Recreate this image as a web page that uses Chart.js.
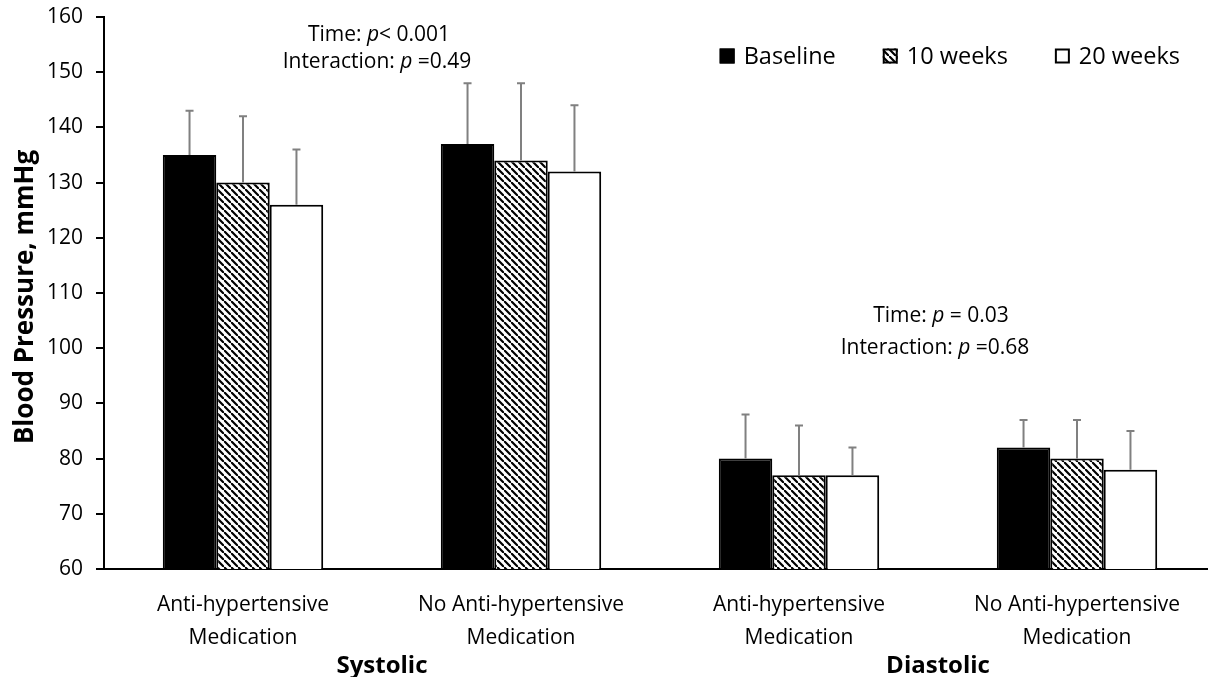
<!DOCTYPE html>
<html>
<head>
<meta charset="utf-8">
<script src="https://cdn.jsdelivr.net/npm/chart.js@4"></script>
<style>
  html, body { margin: 0; padding: 0; background: #fff; overflow: hidden; }
  #wrap { width: 1216px; height: 677px; }
</style>
</head>
<body>
<div id="wrap"><canvas id="bpChart"></canvas></div>
<script>
// data
const categories = [
    ['Anti-hypertensive', 'Medication'],
    ['No Anti-hypertensive', 'Medication'],
    ['Anti-hypertensive', 'Medication'],
    ['No Anti-hypertensive', 'Medication']
];
const groupLabels = ['Systolic', 'Diastolic'];
const seriesNames = ['Baseline', '10 weeks', '20 weeks'];
const baseline = [135, 137, 80, 82];
const weeks10 = [130, 134, 77, 80];
const weeks20 = [126, 132, 77, 78];
// upper error bar lengths (SD)
const baselineSD = [8, 11, 8, 5];
const weeks10SD = [12, 14, 9, 7];
const weeks20SD = [10, 12, 5, 7];
const yMin = 60, yMax = 160, yStep = 10;
const pText = [
    [['Time: ', ''], ['p', 'i'], ['< 0.001', '']],
    [['Interaction: ', ''], ['p', 'i'], [' =0.49', '']]
];
const dText = [
    [['Time: ', ''], ['p', 'i'], [' = 0.03', '']],
    [['Interaction: ', ''], ['p', 'i'], [' =0.68', '']]
];

const FONT = "'Open Sans', sans-serif";
const canvas = document.getElementById('bpChart');
const ctx = canvas.getContext('2d');

function makeHatch() {
    const c = document.createElement('canvas');
    c.width = 7; c.height = 7;
    const g = c.getContext('2d');
    g.fillStyle = '#fff';
    g.fillRect(0, 0, 7, 7);
    g.strokeStyle = '#000';
    g.lineWidth = 2.2;
    g.beginPath();
    g.moveTo(-1, -1); g.lineTo(8, 8);
    g.moveTo(-4.5, 3.5); g.lineTo(3.5, 11.5);
    g.moveTo(3.5, -4.5); g.lineTo(11.5, 3.5);
    g.stroke();
    return ctx.createPattern(c, 'repeat');
}
const hatch = makeHatch();

// mixed regular / italic runs, centred on x
function drawRuns(g, runs, x, y, size) {
    let total = 0;
    runs.forEach(r => {
        g.font = (r[1] === 'i' ? 'italic ' : '') + size + 'px ' + FONT;
        total += g.measureText(r[0]).width;
    });
    let cx = x - total / 2;
    runs.forEach(r => {
        g.font = (r[1] === 'i' ? 'italic ' : '') + size + 'px ' + FONT;
        g.fillText(r[0], cx, y);
        cx += g.measureText(r[0]).width;
    });
}

const extras = {
    id: 'extras',
    afterDatasetsDraw(chart) {
        const g = chart.ctx;
        const y = chart.scales.y;
        const sds = [baselineSD, weeks10SD, weeks20SD];
        g.save();
        g.strokeStyle = '#808080';
        g.lineWidth = 2;
        chart.data.datasets.forEach((ds, di) => {
            chart.getDatasetMeta(di).data.forEach((bar, i) => {
                const top = y.getPixelForValue(ds.data[i] + sds[di][i]);
                g.beginPath();
                g.moveTo(bar.x, bar.y);
                g.lineTo(bar.x, top);
                g.moveTo(bar.x - 4, top);
                g.lineTo(bar.x + 4, top);
                g.stroke();
            });
        });
        g.restore();
    },
    afterDraw(chart) {
        const g = chart.ctx;
        const x = chart.scales.x;
        const y = chart.scales.y;
        g.save();
        g.fillStyle = '#000';
        g.textBaseline = 'middle';
        g.textAlign = 'left';

        // p-value notes
        const mid1 = (x.getPixelForValue(0) + x.getPixelForValue(1)) / 2;
        const mid2 = (x.getPixelForValue(2) + x.getPixelForValue(3)) / 2;
        drawRuns(g, pText[0], mid1 - 3, y.getPixelForValue(156.7), 21);
        drawRuns(g, pText[1], mid1 - 5, y.getPixelForValue(151.8), 21);
        drawRuns(g, dText[0], mid2 + 3, y.getPixelForValue(105.8), 21);
        drawRuns(g, dText[1], mid2 - 3, y.getPixelForValue(100.1), 21);

        // group labels
        g.textAlign = 'center';
        g.font = 'bold 24px ' + FONT;
        g.fillText(groupLabels[0], mid1, 666);
        g.fillText(groupLabels[1], mid2, 666);

        // y axis title
        g.save();
        g.translate(26, 297);
        g.rotate(-Math.PI / 2);
        g.font = 'bold 26px ' + FONT;
        g.fillText('Blood Pressure, mmHg', 0, 0);
        g.restore();

        // legend
        g.textAlign = 'left';
        g.font = '23.5px ' + FONT;
        const box = 15, gapText = 9, gapItem = 47;
        const items = chart.data.datasets.map(ds => ({
            label: ds.label, fill: ds.backgroundColor,
            w: box + gapText + g.measureText(ds.label).width
        }));
        let lx = 1180 - items.reduce((s, it) => s + it.w, 0) - gapItem * (items.length - 1);
        const ly = 56;
        items.forEach(it => {
            g.fillStyle = it.fill;
            g.fillRect(lx, ly - box / 2, box, box);
            g.strokeStyle = '#000';
            g.lineWidth = 2;
            g.strokeRect(lx + 1, ly - box / 2 + 1, box - 2, box - 2);
            g.fillStyle = '#000';
            g.fillText(it.label, lx + box + gapText, ly + 1);
            lx += it.w + gapItem;
        });
        g.restore();
    }
};

new Chart(ctx, {
    type: 'bar',
    data: {
        labels: categories,
        datasets: [
            { label: seriesNames[0], data: baseline, backgroundColor: '#000', borderColor: '#000', borderWidth: 2 },
            { label: seriesNames[1], data: weeks10, backgroundColor: hatch, borderColor: '#000', borderWidth: 2 },
            { label: seriesNames[2], data: weeks20, backgroundColor: '#fff', borderColor: '#000', borderWidth: 2 }
        ]
    },
    options: {
        responsive: true,
        maintainAspectRatio: false,
        animation: false,
        layout: { padding: 0 },
        datasets: { bar: { categoryPercentage: 0.577, barPercentage: 1 } },
        plugins: {
            legend: { display: false },
            tooltip: { enabled: false }
        },
        scales: {
            x: {
                grid: { display: false },
                border: { display: true, color: '#000', width: 2 },
                ticks: {
                    color: '#000',
                    padding: 11,
                    maxRotation: 0,
                    font: { family: FONT, size: 21, lineHeight: 1.6 }
                },
                afterFit(scale) { scale.height = 108; }
            },
            y: {
                min: yMin,
                max: yMax,
                grid: { drawOnChartArea: false, color: '#000', lineWidth: 2, tickLength: 8 },
                border: { display: true, color: '#000', width: 2 },
                ticks: {
                    stepSize: yStep,
                    color: '#000',
                    padding: 13,
                    font: { family: FONT, size: 21 }
                },
                afterFit(scale) {
                    scale.width = 104;
                    scale.paddingTop = 17;
                }
            }
        }
    },
    plugins: [extras]
});
</script>
</body>
</html>
